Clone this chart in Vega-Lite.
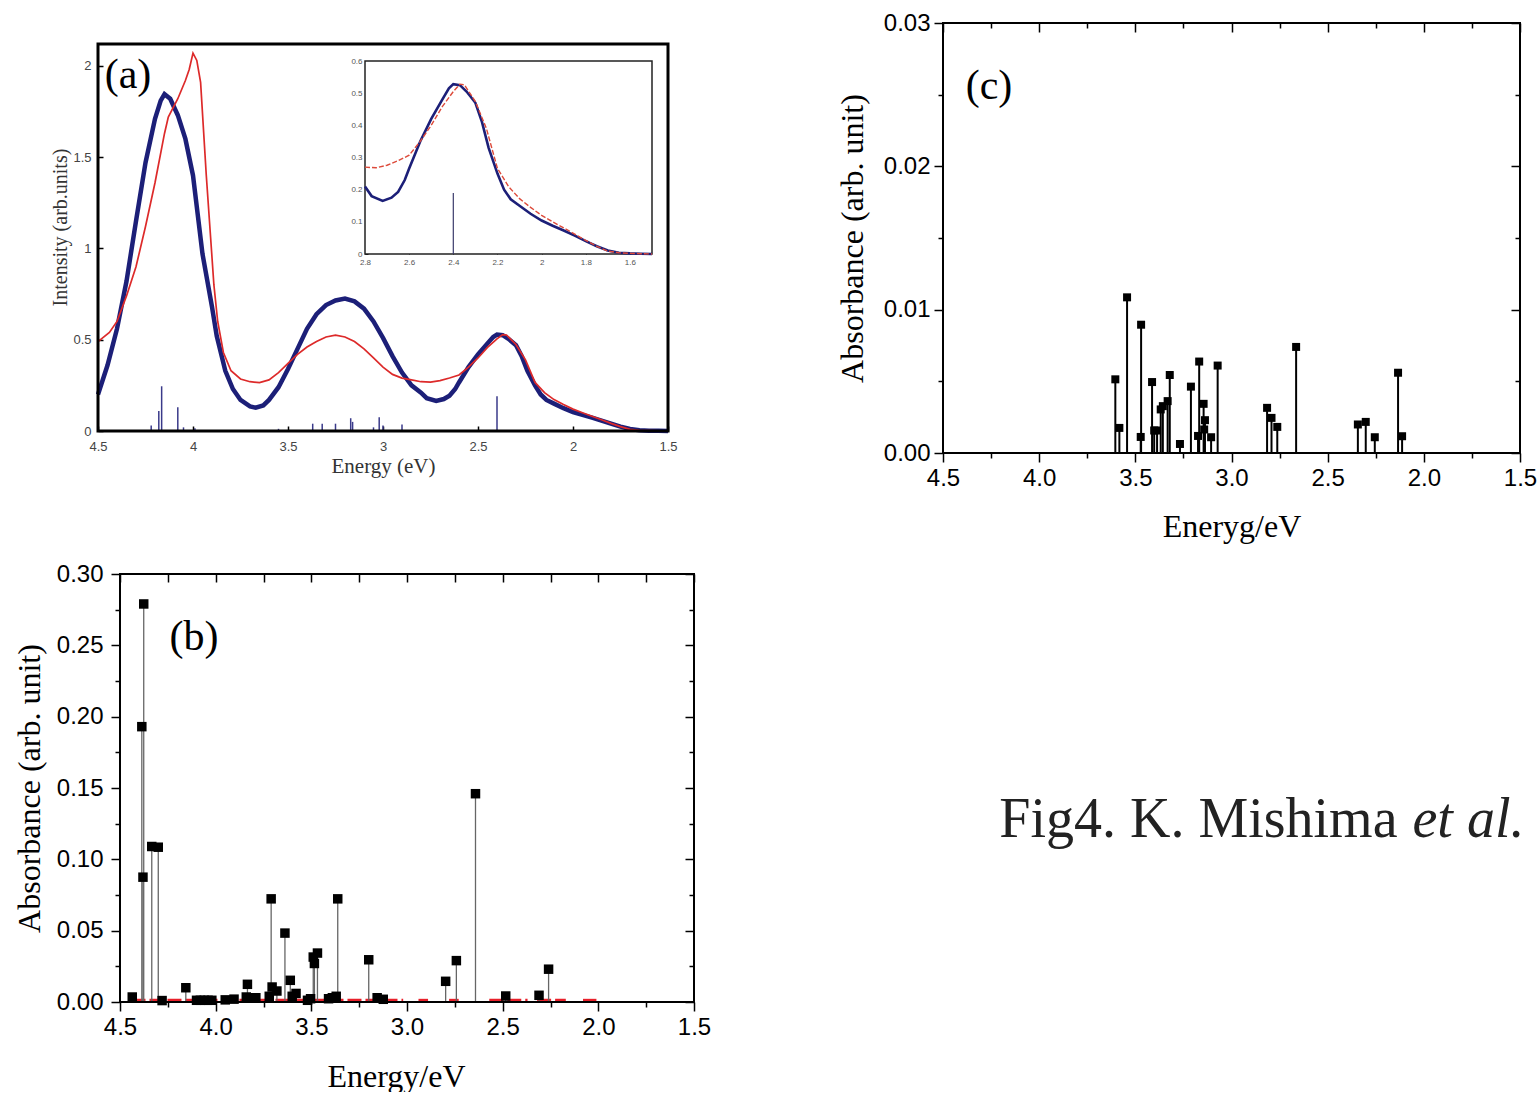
{
  "$schema": "https://vega.github.io/schema/vega-lite/v6.json",
  "padding": {"left": 13, "top": 10, "right": 0, "bottom": 0},
  "background": "white",
  "config": {
    "view": {"stroke": null},
    "axis": {"grid": false, "domain": false, "labelFont": "Liberation Sans", "titleFont": "Liberation Serif", "titleFontWeight": "normal", "labelFlush": false, "labelOverlap": false, "tickColor": "black", "labelColor": "black", "titleColor": "black"}
  },
  "datasets": {
    "blue": [
      {"energy": 4.5, "intensity": 0.2}, {"energy": 4.45, "intensity": 0.36}, {"energy": 4.4, "intensity": 0.56}, {"energy": 4.35, "intensity": 0.82},
      {"energy": 4.3, "intensity": 1.15}, {"energy": 4.25, "intensity": 1.47}, {"energy": 4.2, "intensity": 1.71}, {"energy": 4.17, "intensity": 1.81},
      {"energy": 4.15, "intensity": 1.845}, {"energy": 4.12, "intensity": 1.82}, {"energy": 4.08, "intensity": 1.73}, {"energy": 4.04, "intensity": 1.6},
      {"energy": 4.0, "intensity": 1.4}, {"energy": 3.95, "intensity": 0.97}, {"energy": 3.9, "intensity": 0.68}, {"energy": 3.875, "intensity": 0.52},
      {"energy": 3.83, "intensity": 0.33}, {"energy": 3.79, "intensity": 0.23}, {"energy": 3.75, "intensity": 0.17}, {"energy": 3.7, "intensity": 0.135},
      {"energy": 3.67, "intensity": 0.128}, {"energy": 3.63, "intensity": 0.14}, {"energy": 3.6, "intensity": 0.17},
      {"energy": 3.55, "intensity": 0.24}, {"energy": 3.5, "intensity": 0.34}, {"energy": 3.45, "intensity": 0.45}, {"energy": 3.4, "intensity": 0.56},
      {"energy": 3.35, "intensity": 0.64}, {"energy": 3.3, "intensity": 0.69}, {"energy": 3.25, "intensity": 0.715}, {"energy": 3.2, "intensity": 0.725},
      {"energy": 3.15, "intensity": 0.71}, {"energy": 3.1, "intensity": 0.67}, {"energy": 3.05, "intensity": 0.6}, {"energy": 3.0, "intensity": 0.51},
      {"energy": 2.95, "intensity": 0.41}, {"energy": 2.9, "intensity": 0.32}, {"energy": 2.85, "intensity": 0.25}, {"energy": 2.8, "intensity": 0.21},
      {"energy": 2.77, "intensity": 0.18}, {"energy": 2.72, "intensity": 0.165}, {"energy": 2.68, "intensity": 0.175}, {"energy": 2.65, "intensity": 0.193},
      {"energy": 2.62, "intensity": 0.23}, {"energy": 2.6, "intensity": 0.266}, {"energy": 2.55, "intensity": 0.35}, {"energy": 2.5, "intensity": 0.42},
      {"energy": 2.45, "intensity": 0.48}, {"energy": 2.42, "intensity": 0.515}, {"energy": 2.4, "intensity": 0.528}, {"energy": 2.37, "intensity": 0.525},
      {"energy": 2.34, "intensity": 0.505}, {"energy": 2.3, "intensity": 0.47}, {"energy": 2.27, "intensity": 0.41}, {"energy": 2.24, "intensity": 0.33},
      {"energy": 2.2, "intensity": 0.25}, {"energy": 2.17, "intensity": 0.2}, {"energy": 2.14, "intensity": 0.17}, {"energy": 2.1, "intensity": 0.15},
      {"energy": 2.05, "intensity": 0.125}, {"energy": 2.0, "intensity": 0.104}, {"energy": 1.95, "intensity": 0.088}, {"energy": 1.9, "intensity": 0.073},
      {"energy": 1.85, "intensity": 0.057}, {"energy": 1.8, "intensity": 0.04}, {"energy": 1.75, "intensity": 0.024}, {"energy": 1.7, "intensity": 0.011},
      {"energy": 1.65, "intensity": 0.004}, {"energy": 1.6, "intensity": 0.002}, {"energy": 1.55, "intensity": 0.001}, {"energy": 1.5, "intensity": 0.0}
    ],
    "red": [
      {"energy": 4.5, "intensity": 0.49}, {"energy": 4.44, "intensity": 0.54}, {"energy": 4.4, "intensity": 0.6}, {"energy": 4.35, "intensity": 0.74},
      {"energy": 4.3, "intensity": 0.9}, {"energy": 4.25, "intensity": 1.12}, {"energy": 4.2, "intensity": 1.36}, {"energy": 4.15, "intensity": 1.63},
      {"energy": 4.13, "intensity": 1.72}, {"energy": 4.08, "intensity": 1.82}, {"energy": 4.04, "intensity": 1.92}, {"energy": 4.02, "intensity": 1.98},
      {"energy": 4.0, "intensity": 2.07}, {"energy": 3.98, "intensity": 2.03}, {"energy": 3.96, "intensity": 1.91}, {"energy": 3.93, "intensity": 1.4},
      {"energy": 3.91, "intensity": 1.1}, {"energy": 3.89, "intensity": 0.8}, {"energy": 3.87, "intensity": 0.6}, {"energy": 3.84, "intensity": 0.43},
      {"energy": 3.8, "intensity": 0.33}, {"energy": 3.75, "intensity": 0.285}, {"energy": 3.7, "intensity": 0.27}, {"energy": 3.65, "intensity": 0.265},
      {"energy": 3.6, "intensity": 0.28}, {"energy": 3.55, "intensity": 0.32},
      {"energy": 3.5, "intensity": 0.37}, {"energy": 3.45, "intensity": 0.42}, {"energy": 3.4, "intensity": 0.46}, {"energy": 3.35, "intensity": 0.49},
      {"energy": 3.3, "intensity": 0.515}, {"energy": 3.25, "intensity": 0.525}, {"energy": 3.2, "intensity": 0.515}, {"energy": 3.15, "intensity": 0.49},
      {"energy": 3.1, "intensity": 0.45}, {"energy": 3.05, "intensity": 0.4}, {"energy": 3.0, "intensity": 0.35}, {"energy": 2.95, "intensity": 0.31},
      {"energy": 2.9, "intensity": 0.29}, {"energy": 2.85, "intensity": 0.28}, {"energy": 2.8, "intensity": 0.27}, {"energy": 2.75, "intensity": 0.268},
      {"energy": 2.7, "intensity": 0.276}, {"energy": 2.65, "intensity": 0.29}, {"energy": 2.6, "intensity": 0.307}, {"energy": 2.55, "intensity": 0.35},
      {"energy": 2.5, "intensity": 0.4}, {"energy": 2.45, "intensity": 0.458}, {"energy": 2.4, "intensity": 0.505}, {"energy": 2.37, "intensity": 0.528},
      {"energy": 2.35, "intensity": 0.526}, {"energy": 2.3, "intensity": 0.474}, {"energy": 2.25, "intensity": 0.39}, {"energy": 2.2, "intensity": 0.266},
      {"energy": 2.15, "intensity": 0.21}, {"energy": 2.1, "intensity": 0.172}, {"energy": 2.05, "intensity": 0.145}, {"energy": 2.0, "intensity": 0.12},
      {"energy": 1.95, "intensity": 0.1}, {"energy": 1.9, "intensity": 0.081}, {"energy": 1.85, "intensity": 0.062}, {"energy": 1.8, "intensity": 0.042},
      {"energy": 1.75, "intensity": 0.024}, {"energy": 1.7, "intensity": 0.009}, {"energy": 1.65, "intensity": 0.004}, {"energy": 1.6, "intensity": 0.002},
      {"energy": 1.55, "intensity": 0.001}, {"energy": 1.5, "intensity": 0.0}
    ],
    "sticksA": [
      {"energy": 4.22, "intensity": 0.03}, {"energy": 4.18, "intensity": 0.11}, {"energy": 4.165, "intensity": 0.245}, {"energy": 4.08, "intensity": 0.13},
      {"energy": 4.05, "intensity": 0.02}, {"energy": 3.99, "intensity": 0.015}, {"energy": 3.55, "intensity": 0.012}, {"energy": 3.37, "intensity": 0.04},
      {"energy": 3.32, "intensity": 0.04}, {"energy": 3.25, "intensity": 0.04}, {"energy": 3.17, "intensity": 0.07}, {"energy": 3.16, "intensity": 0.05},
      {"energy": 3.05, "intensity": 0.02}, {"energy": 3.02, "intensity": 0.075}, {"energy": 3.0, "intensity": 0.03}, {"energy": 2.9, "intensity": 0.035},
      {"energy": 2.4, "intensity": 0.19}
    ],
    "sticksB": [
      {"energy": 4.436, "absorbance": 0.0035}, {"energy": 4.386, "absorbance": 0.193}, {"energy": 4.38, "absorbance": 0.0875}, {"energy": 4.376, "absorbance": 0.279},
      {"energy": 4.334, "absorbance": 0.109}, {"energy": 4.3, "absorbance": 0.1085}, {"energy": 4.28, "absorbance": 0.001}, {"energy": 4.156, "absorbance": 0.01},
      {"energy": 4.1, "absorbance": 0.0012}, {"energy": 4.08, "absorbance": 0.0012}, {"energy": 4.06, "absorbance": 0.0012}, {"energy": 4.04, "absorbance": 0.0012},
      {"energy": 4.02, "absorbance": 0.0012}, {"energy": 3.95, "absorbance": 0.0015}, {"energy": 3.904, "absorbance": 0.002}, {"energy": 3.84, "absorbance": 0.0035},
      {"energy": 3.834, "absorbance": 0.0124}, {"energy": 3.8, "absorbance": 0.003}, {"energy": 3.79, "absorbance": 0.003}, {"energy": 3.72, "absorbance": 0.004},
      {"energy": 3.71, "absorbance": 0.0723}, {"energy": 3.705, "absorbance": 0.0105}, {"energy": 3.68, "absorbance": 0.0077}, {"energy": 3.638, "absorbance": 0.0483},
      {"energy": 3.61, "absorbance": 0.0152}, {"energy": 3.6, "absorbance": 0.004}, {"energy": 3.58, "absorbance": 0.006}, {"energy": 3.52, "absorbance": 0.0012},
      {"energy": 3.504, "absorbance": 0.0023}, {"energy": 3.49, "absorbance": 0.0315}, {"energy": 3.484, "absorbance": 0.027}, {"energy": 3.468, "absorbance": 0.0343},
      {"energy": 3.41, "absorbance": 0.0023}, {"energy": 3.39, "absorbance": 0.003}, {"energy": 3.37, "absorbance": 0.004}, {"energy": 3.362, "absorbance": 0.0723},
      {"energy": 3.2, "absorbance": 0.0296}, {"energy": 3.156, "absorbance": 0.003}, {"energy": 3.124, "absorbance": 0.0019}, {"energy": 2.798, "absorbance": 0.0145},
      {"energy": 2.742, "absorbance": 0.029}, {"energy": 2.642, "absorbance": 0.146}, {"energy": 2.484, "absorbance": 0.0042}, {"energy": 2.31, "absorbance": 0.0047},
      {"energy": 2.26, "absorbance": 0.023}
    ],
    "blineB": [
      {"energy": 4.44, "absorbance": 0.001, "seg": 1}, {"energy": 3.02, "absorbance": 0.001, "seg": 1},
      {"energy": 2.94, "absorbance": 0.001, "seg": 2}, {"energy": 2.89, "absorbance": 0.001, "seg": 2},
      {"energy": 2.78, "absorbance": 0.001, "seg": 3}, {"energy": 2.73, "absorbance": 0.001, "seg": 3},
      {"energy": 2.57, "absorbance": 0.001, "seg": 4}, {"energy": 2.37, "absorbance": 0.001, "seg": 4},
      {"energy": 2.32, "absorbance": 0.001, "seg": 5}, {"energy": 2.17, "absorbance": 0.001, "seg": 5},
      {"energy": 2.08, "absorbance": 0.001, "seg": 6}, {"energy": 2.01, "absorbance": 0.001, "seg": 6}
    ],
    "sticksC": [
      {"energy": 3.604, "absorbance": 0.00514}, {"energy": 3.583, "absorbance": 0.00175}, {"energy": 3.543, "absorbance": 0.01086}, {"energy": 3.472, "absorbance": 0.00112},
      {"energy": 3.47, "absorbance": 0.00895}, {"energy": 3.413, "absorbance": 0.00495}, {"energy": 3.402, "absorbance": 0.00157}, {"energy": 3.387, "absorbance": 0.00157},
      {"energy": 3.368, "absorbance": 0.00304}, {"energy": 3.357, "absorbance": 0.00327}, {"energy": 3.332, "absorbance": 0.00362}, {"energy": 3.321, "absorbance": 0.00544},
      {"energy": 3.268, "absorbance": 0.00063}, {"energy": 3.211, "absorbance": 0.00463}, {"energy": 3.174, "absorbance": 0.00119}, {"energy": 3.168, "absorbance": 0.00638},
      {"energy": 3.145, "absorbance": 0.00343}, {"energy": 3.138, "absorbance": 0.00229}, {"energy": 3.142, "absorbance": 0.00164}, {"energy": 3.106, "absorbance": 0.0011},
      {"energy": 3.072, "absorbance": 0.0061}, {"energy": 2.815, "absorbance": 0.00315}, {"energy": 2.792, "absorbance": 0.00245}, {"energy": 2.762, "absorbance": 0.00182},
      {"energy": 2.664, "absorbance": 0.0074}, {"energy": 2.343, "absorbance": 0.00199}, {"energy": 2.302, "absorbance": 0.00217}, {"energy": 2.255, "absorbance": 0.0011},
      {"energy": 2.134, "absorbance": 0.0056}, {"energy": 2.113, "absorbance": 0.00117}
    ]
  },
  "columns": 2,
  "spacing": {"row": 121, "column": 249},
  "bounds": "flush",
  "concat": [
    {
      "width": 570, "height": 408,
      "resolve": {"scale": {"x": "independent", "y": "independent"}, "axis": {"x": "independent", "y": "independent"}},
      "layer": [
        {
          "layer": [
            {
              "data": {"name": "blue"},
              "mark": {"type": "line", "color": "#1c1f78", "strokeWidth": 4.5},
              "encoding": {
                "x": {"field": "energy", "type": "quantitative", "scale": {"domain": [4.5, 1.5], "nice": false, "zero": false},
                  "axis": {"orient": "bottom", "values": [4.5, 4, 3.5, 3, 2.5, 2, 1.5], "format": "~g", "title": "Energy (eV)", "titleFontSize": 21, "titleColor": "#333", "titlePadding": 2, "labelFontSize": 13, "labelColor": "#444", "tickSize": -5, "tickWidth": 1.5, "labelPadding": 14}},
                "y": {"field": "intensity", "type": "quantitative", "scale": {"domain": [0, 2.235], "nice": false, "zero": false},
                  "axis": {"orient": "left", "values": [0, 0.5, 1, 1.5, 2], "format": "~g", "title": "Intensity (arb.units)", "titleFontSize": 20, "titleColor": "#333", "titlePadding": 2, "labelFontSize": 13, "labelColor": "#444", "tickSize": -5, "tickWidth": 1.5, "labelPadding": 12}}
              }
            },
            {
              "data": {"name": "red"},
              "mark": {"type": "line", "color": "#dd2a2a", "strokeWidth": 1.7},
              "encoding": {"x": {"field": "energy", "type": "quantitative"}, "y": {"field": "intensity", "type": "quantitative"}}
            },
            {
              "data": {"name": "sticksA"},
              "mark": {"type": "rule", "color": "#3a3a8a", "strokeWidth": 1.5},
              "encoding": {"x": {"field": "energy", "type": "quantitative"}, "y": {"field": "intensity", "type": "quantitative"}, "y2": {"datum": 0}}
            },
            {
              "data": {"values": [{"label": "(a)"}]},
              "mark": {"type": "text", "font": "Liberation Serif", "fontSize": 42, "color": "black", "align": "center", "baseline": "middle"},
              "encoding": {"x": {"datum": 4.342, "type": "quantitative"}, "y": {"datum": 1.95, "type": "quantitative"}, "text": {"field": "label"}}
            },
            {
              "data": {"values": [{"box": "frame"}]},
              "mark": {"type": "rect", "fillOpacity": 0, "stroke": "black", "strokeWidth": 3},
              "encoding": {"x": {"datum": 4.5, "type": "quantitative"}, "x2": {"datum": 1.5}, "y": {"datum": 0, "type": "quantitative"}, "y2": {"datum": 2.12}}
            }
          ]
        },
        {
          "layer": [
            {
              "data": {"values": [{"box": "inset"}]},
              "mark": {"type": "rect", "fill": "white", "stroke": "#222", "strokeWidth": 1.5},
              "encoding": {
                "x": {"datum": 2.8, "type": "quantitative", "scale": {"domain": [2.8, 1.5], "range": [267, 554], "nice": false, "zero": false},
                  "axis": {"orient": "bottom", "offset": -177, "values": [2.8, 2.6, 2.4, 2.2, 2, 1.8, 1.6], "format": "~g", "title": null, "labelFontSize": 8, "labelColor": "#555", "tickSize": -3, "labelPadding": 7}},
                "x2": {"datum": 1.5},
                "y": {"datum": 0, "type": "quantitative", "scale": {"domain": [0, 0.6], "range": [231, 38], "nice": false, "zero": false},
                  "axis": {"orient": "left", "offset": -267, "values": [0, 0.1, 0.2, 0.3, 0.4, 0.5, 0.6], "format": "~g", "title": null, "labelFontSize": 8, "labelColor": "#555", "tickSize": -3, "labelPadding": 6}},
                "y2": {"datum": 0.6}
              }
            },
            {
              "data": {"name": "blue"},
              "transform": [{"filter": "datum.energy <= 2.8"}],
              "mark": {"type": "line", "color": "#1c1f78", "strokeWidth": 2.6},
              "encoding": {"x": {"field": "energy", "type": "quantitative"}, "y": {"field": "intensity", "type": "quantitative"}}
            },
            {
              "data": {"name": "red"},
              "transform": [{"filter": "datum.energy <= 2.8"}],
              "mark": {"type": "line", "color": "#dd4a3a", "strokeWidth": 1.4, "strokeDash": [5, 2]},
              "encoding": {"x": {"field": "energy", "type": "quantitative"}, "y": {"field": "intensity", "type": "quantitative"}}
            },
            {
              "data": {"name": "sticksA"},
              "transform": [{"filter": "datum.energy <= 2.8"}],
              "mark": {"type": "rule", "color": "#3a3a6a", "strokeWidth": 1.2},
              "encoding": {"x": {"field": "energy", "type": "quantitative"}, "y": {"field": "intensity", "type": "quantitative"}, "y2": {"datum": 0}}
            }
          ]
        }
      ]
    },
    {
      "width": 577, "height": 430,
      "view": {"stroke": "black", "strokeWidth": 2},
      "resolve": {"axis": {"x": "independent", "y": "independent"}},
      "layer": [
        {
          "data": {"name": "sticksC"},
          "mark": {"type": "rule", "color": "black", "strokeWidth": 2},
          "encoding": {
            "x": {"field": "energy", "type": "quantitative", "scale": {"domain": [4.5, 1.5], "nice": false, "zero": false},
              "axis": {"orient": "bottom", "values": [4.5, 4.25, 4, 3.75, 3.5, 3.25, 3, 2.75, 2.5, 2.25, 2, 1.75, 1.5], "format": ".1f",
                "labelExpr": "abs(datum.value*2-round(datum.value*2))<0.01 ? datum.label : ''",
                "tickSize": {"condition": {"test": "abs(datum.value*2-round(datum.value*2))<0.01", "value": 9}, "value": 5},
                "tickWidth": 1.5, "labelFontSize": 24, "labelPadding": 4, "title": "Eneryg/eV", "titleFontSize": 32, "titlePadding": 21}},
            "y": {"field": "absorbance", "type": "quantitative", "scale": {"domain": [0, 0.03], "nice": false, "zero": false},
              "axis": {"orient": "left", "values": [0, 0.005, 0.01, 0.015, 0.02, 0.025, 0.03], "format": ".2f",
                "labelExpr": "abs(datum.value*100-round(datum.value*100))<0.01 ? datum.label : ''",
                "tickSize": {"condition": {"test": "abs(datum.value*100-round(datum.value*100))<0.01", "value": 9}, "value": 5},
                "tickWidth": 1.5, "labelFontSize": 24, "labelPadding": 4, "title": "Absorbance (arb. unit)", "titleFontSize": 32, "titlePadding": 14}},
            "y2": {"datum": 0}
          }
        },
        {
          "data": {"name": "sticksC"},
          "mark": {"type": "point", "shape": "square", "filled": true, "color": "black", "size": 64, "opacity": 1},
          "encoding": {
            "x": {"field": "energy", "type": "quantitative", "scale": {"domain": [4.5, 1.5], "nice": false, "zero": false},
              "axis": {"orient": "top", "values": [4.5, 4.25, 4, 3.75, 3.5, 3.25, 3, 2.75, 2.5, 2.25, 2, 1.75, 1.5], "labels": false, "title": null,
                "tickSize": {"condition": {"test": "abs(datum.value*2-round(datum.value*2))<0.01", "value": -9}, "value": -5}, "tickWidth": 1.5}},
            "y": {"field": "absorbance", "type": "quantitative", "scale": {"domain": [0, 0.03], "nice": false, "zero": false},
              "axis": {"orient": "right", "values": [0, 0.005, 0.01, 0.015, 0.02, 0.025, 0.03], "labels": false, "title": null,
                "tickSize": {"condition": {"test": "abs(datum.value*100-round(datum.value*100))<0.01", "value": -9}, "value": -5}, "tickWidth": 1.5}}
          }
        },
        {
          "data": {"values": [{"label": "(c)"}]},
          "mark": {"type": "text", "font": "Liberation Serif", "fontSize": 42, "color": "black", "align": "center", "baseline": "middle"},
          "encoding": {"x": {"datum": 4.261, "type": "quantitative", "axis": null}, "y": {"datum": 0.0256, "type": "quantitative", "axis": null}, "text": {"field": "label"}}
        }
      ]
    },
    {
      "width": 596, "height": 428,
      "resolve": {"axis": {"x": "independent", "y": "independent"}},
      "layer": [
        {
          "data": {"name": "blineB"},
          "mark": {"type": "line", "color": "#e8202a", "strokeWidth": 3.5, "strokeDash": [14, 4]},
          "encoding": {
            "x": {"field": "energy", "type": "quantitative", "scale": {"domain": [4.615, 1.5], "nice": false, "zero": false}, "axis": null},
            "y": {"field": "absorbance", "type": "quantitative", "scale": {"domain": [0, 0.3], "nice": false, "zero": false}, "axis": null},
            "detail": {"field": "seg"}
          }
        },
        {
          "data": {"name": "sticksB"},
          "mark": {"type": "rule", "color": "#666", "strokeWidth": 1.3},
          "encoding": {
            "x": {"field": "energy", "type": "quantitative", "scale": {"domain": [4.615, 1.5], "nice": false, "zero": false},
              "axis": {"orient": "bottom", "values": [4.5, 4.25, 4, 3.75, 3.5, 3.25, 3, 2.75, 2.5, 2.25, 2, 1.75, 1.5], "format": ".1f",
                "labelExpr": "abs(datum.value*2-round(datum.value*2))<0.01 ? datum.label : ''",
                "tickSize": {"condition": {"test": "abs(datum.value*2-round(datum.value*2))<0.01", "value": 9}, "value": 5},
                "tickWidth": 1.5, "labelFontSize": 24, "labelPadding": 4, "title": "Energy/eV", "titleFontSize": 32, "titlePadding": 22}},
            "y": {"field": "absorbance", "type": "quantitative", "scale": {"domain": [0, 0.3], "nice": false, "zero": false},
              "axis": {"orient": "left", "offset": -22, "values": [0, 0.025, 0.05, 0.075, 0.1, 0.125, 0.15, 0.175, 0.2, 0.225, 0.25, 0.275, 0.3], "format": ".2f",
                "labelExpr": "abs(datum.value*20-round(datum.value*20))<0.01 ? datum.label : ''",
                "tickSize": {"condition": {"test": "abs(datum.value*20-round(datum.value*20))<0.01", "value": 9}, "value": 5},
                "tickWidth": 1.5, "labelFontSize": 24, "labelPadding": 8, "title": "Absorbance (arb. unit)", "titleFontSize": 32, "titlePadding": 10}},
            "y2": {"datum": 0}
          }
        },
        {
          "data": {"name": "sticksB"},
          "mark": {"type": "point", "shape": "square", "filled": true, "color": "black", "size": 90, "opacity": 1},
          "encoding": {
            "x": {"field": "energy", "type": "quantitative", "scale": {"domain": [4.615, 1.5], "nice": false, "zero": false},
              "axis": {"orient": "top", "values": [4.5, 4.25, 4, 3.75, 3.5, 3.25, 3, 2.75, 2.5, 2.25, 2, 1.75, 1.5], "labels": false, "title": null,
                "tickSize": -8, "tickWidth": 1.5}},
            "y": {"field": "absorbance", "type": "quantitative", "scale": {"domain": [0, 0.3], "nice": false, "zero": false},
              "axis": {"orient": "right", "values": [0, 0.025, 0.05, 0.075, 0.1, 0.125, 0.15, 0.175, 0.2, 0.225, 0.25, 0.275, 0.3], "labels": false, "title": null,
                "tickSize": {"condition": {"test": "abs(datum.value*20-round(datum.value*20))<0.01", "value": -9}, "value": -5}, "tickWidth": 1.5}}
          }
        },
        {
          "data": {"values": [{"label": "(b)"}]},
          "mark": {"type": "text", "font": "Liberation Serif", "fontSize": 42, "color": "black", "align": "center", "baseline": "middle"},
          "encoding": {"x": {"datum": 4.113, "type": "quantitative", "axis": null}, "y": {"datum": 0.2558, "type": "quantitative", "axis": null}, "text": {"field": "label"}}
        },
        {
          "data": {"values": [{"box": "frame"}]},
          "mark": {"type": "rect", "fillOpacity": 0, "stroke": "black", "strokeWidth": 2},
          "encoding": {"x": {"datum": 4.5, "type": "quantitative", "axis": null}, "x2": {"datum": 1.5}, "y": {"datum": 0, "type": "quantitative", "axis": null}, "y2": {"datum": 0.3}}
        }
      ]
    },
    {
      "width": 577, "height": 428,
      "data": {"values": [{"main": "Fig4. K. Mishima", "tail": "et al."}]},
      "layer": [
        {"mark": {"type": "text", "font": "Liberation Serif", "fontSize": 56, "align": "right", "baseline": "alphabetic", "dx": 166, "dy": 49, "color": "#222"}, "encoding": {"text": {"field": "main"}}},
        {"mark": {"type": "text", "font": "Liberation Serif", "fontSize": 56, "fontStyle": "italic", "align": "left", "baseline": "alphabetic", "dx": 181, "dy": 49, "color": "#222"}, "encoding": {"text": {"field": "tail"}}}
      ]
    }
  ]
}
